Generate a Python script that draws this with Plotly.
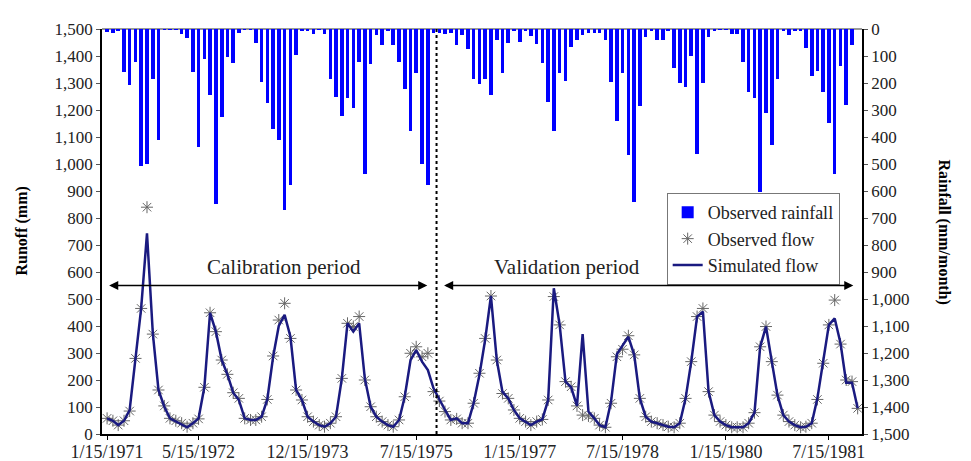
import pandas as pd
import plotly.graph_objects as go

# ---------------- data (monthly, Jan 1971 - Dec 1981) ----------------
months = (pd.date_range("1971-01-01", periods=132, freq="MS") + pd.Timedelta(days=14)).strftime("%Y-%m-%d").tolist()

rainfall = [
    10, 14, 4, 158, 207, 123, 507, 501, 184, 411, 3, 3,        # 1971
    3, 19, 33, 160, 436, 112, 246, 648, 326, 104, 127, 14,     # 1972
    3, 3, 52, 195, 273, 370, 411, 672, 577, 96, 7, 7,          # 1973
    19, 1, 19, 184, 251, 321, 256, 294, 123, 538, 131, 22,     # 1974
    60, 7, 60, 123, 222, 378, 164, 501, 577, 16, 14, 19,       # 1975
    14, 60, 22, 75, 184, 202, 185, 246, 41, 164, 53, 4,        # 1976
    47, 4, 26, 57, 127, 269, 378, 164, 194, 65, 41, 22,        # 1977
    14, 14, 14, 41, 195, 340, 164, 468, 640, 285, 31, 4,       # 1978
    41, 41, 4, 146, 201, 216, 99, 464, 201, 31, 4, 2,          # 1979
    2, 19, 19, 123, 235, 254, 605, 312, 430, 184, 4, 22,       # 1980
    4, 4, 72, 174, 156, 235, 349, 538, 136, 283, 59, 0,        # 1981
]

observed_flow = [
    58, 49, 33, 49, 85, 280, 465, 840, 370, 163, 104, 58,
    49, 40, 27, 40, 56, 173, 449, 379, 274, 221, 153, 132,
    58, 52, 52, 64, 128, 289, 422, 484, 354, 163, 126, 64,
    46, 33, 27, 40, 64, 206, 410, 398, 435, 200, 101, 64,
    46, 33, 27, 52, 138, 299, 323, 286, 299, 157, 122, 83,
    52, 56, 40, 40, 114, 225, 354, 511, 274, 150, 132, 89,
    58, 46, 33, 46, 54, 126, 509, 404, 194, 175, 104, 70,
    67, 58, 33, 25, 114, 286, 314, 364, 293, 132, 64, 46,
    40, 33, 27, 25, 40, 132, 268, 435, 465, 157, 70, 46,
    33, 25, 25, 25, 40, 79, 323, 398, 268, 144, 70, 46,
    33, 25, 27, 40, 128, 262, 404, 496, 333, 200, 194, 95,
]

simulated_flow = [
    58, 49, 33, 49, 89, 280, 465, 743, 373, 163, 101, 58,
    46, 36, 25, 40, 58, 175, 449, 379, 274, 221, 153, 126,
    58, 52, 52, 64, 128, 286, 400, 441, 360, 163, 126, 64,
    46, 33, 27, 40, 64, 206, 410, 379, 410, 206, 101, 64,
    46, 33, 27, 52, 138, 274, 311, 268, 237, 169, 126, 89,
    52, 58, 40, 40, 114, 219, 348, 511, 274, 157, 132, 89,
    58, 46, 33, 46, 54, 126, 540, 404, 194, 173, 104, 370,
    83, 58, 33, 25, 120, 296, 330, 360, 293, 132, 64, 46,
    40, 33, 27, 25, 40, 132, 268, 435, 453, 157, 70, 46,
    33, 25, 25, 25, 40, 79, 323, 398, 268, 144, 70, 46,
    33, 25, 27, 40, 132, 262, 404, 428, 336, 190, 190, 95,
]

tick_dates = ["1971-01-15", "1972-05-15", "1973-12-15", "1975-07-15",
              "1977-01-15", "1978-07-15", "1980-01-15", "1981-07-15"]
tick_labels = ["1/15/1971", "5/15/1972", "12/15/1973", "7/15/1975",
               "1/15/1977", "7/15/1978", "1/15/1980", "7/15/1981"]

runoff_ticks = list(range(0, 1501, 100))

# ---------------- figure ----------------
SERIF = "Liberation Serif, Times New Roman, serif"
DAY_MS = 86400000

fig = go.Figure()

fig.add_trace(go.Bar(
    x=months, y=rainfall, yaxis="y2", name="Observed rainfall",
    marker=dict(color="#0000FF", line=dict(width=0)),
    width=19 * DAY_MS,
))
fig.add_trace(go.Scatter(
    x=months, y=observed_flow, mode="markers", name="Observed flow",
    marker=dict(symbol="asterisk-open", size=10, color="#666666",
                line=dict(color="#666666", width=1)),
))
fig.add_trace(go.Scatter(
    x=months, y=simulated_flow, mode="lines", name="Simulated flow",
    line=dict(color="#1A1A80", width=2.5),
))

# split line between calibration and validation
fig.add_shape(type="line", xref="x", yref="paper",
              x0="1975-10-31", x1="1975-10-31", y0=0, y1=1,
              line=dict(color="black", width=2, dash="dot"))

# period arrows
for x_from, x_to in [("1971-01-18", "1975-09-12"), ("1975-12-02", "1981-11-22")]:
    fig.add_annotation(x=x_to, y=550, ax=x_from, ay=550, xref="x", yref="y",
                       axref="x", ayref="y", text="", showarrow=True,
                       arrowhead=2, arrowsize=1.4, arrowwidth=1.3,
                       arrowside="end+start", arrowcolor="black")

fig.add_annotation(x="1973-08-13", y=620, text="Calibration period", showarrow=False,
                   xref="x", yref="y", font=dict(family=SERIF, size=21, color="#222"))
fig.add_annotation(x="1977-09-24", y=620, text="Validation period", showarrow=False,
                   xref="x", yref="y", font=dict(family=SERIF, size=21, color="#222"))

# axis titles
fig.add_annotation(x=0, xref="paper", xshift=-92, y=0.5, yref="paper",
                   text="<b>Runoff (mm)</b>", textangle=-90, showarrow=False,
                   font=dict(family=SERIF, size=16, color="black"))
fig.add_annotation(x=1.0, xref="paper", xshift=93, y=0.5, yref="paper",
                   text="<b>Rainfall (mm/month)</b>", textangle=90, showarrow=False,
                   font=dict(family=SERIF, size=16, color="black"))

# the page body adds an 8px offset, so the figure is 8px smaller on the top/left
fig.update_layout(
    width=963, height=453,
    margin=dict(l=94, r=109, t=21, b=27),
    paper_bgcolor="white", plot_bgcolor="white",
    font=dict(family=SERIF, size=15, color="#222"),
    bargap=0,
    showlegend=True,
    legend=dict(x=0.743, y=0.595, xanchor="left", yanchor="top",
                bgcolor="white", bordercolor="#777", borderwidth=1,
                font=dict(family=SERIF, size=18, color="#222"),
                tracegroupgap=0, itemwidth=30),
    xaxis=dict(type="date", range=["1970-12-19", "1982-01-07"], automargin=False,
               tickvals=tick_dates, ticktext=tick_labels,
               showline=True, linecolor="black", linewidth=1.5,
               ticks="outside", ticklen=4, tickcolor="black", ticklabelstandoff=-3,
               showgrid=False, zeroline=False,
               tickfont=dict(family=SERIF, size=18, color="#222")),
    yaxis=dict(range=[0, 1500], tickvals=runoff_ticks, tickformat=",", automargin=False,
               showline=True, linecolor="black", linewidth=1.5,
               ticks="outside", ticklen=4, tickcolor="#555",
               showgrid=False, zeroline=False,
               tickfont=dict(family=SERIF, size=17, color="#222")),
    yaxis2=dict(range=[1500, 0], tickvals=runoff_ticks, tickformat=",", automargin=False,
                overlaying="y", side="right",
                showline=True, linecolor="black", linewidth=1.5,
                ticks="outside", ticklen=4, tickcolor="#555",
                showgrid=False, zeroline=True, zerolinecolor="#999", zerolinewidth=1.5,
                tickfont=dict(family=SERIF, size=17, color="#222")),
)

fig.write_html("out.html")
